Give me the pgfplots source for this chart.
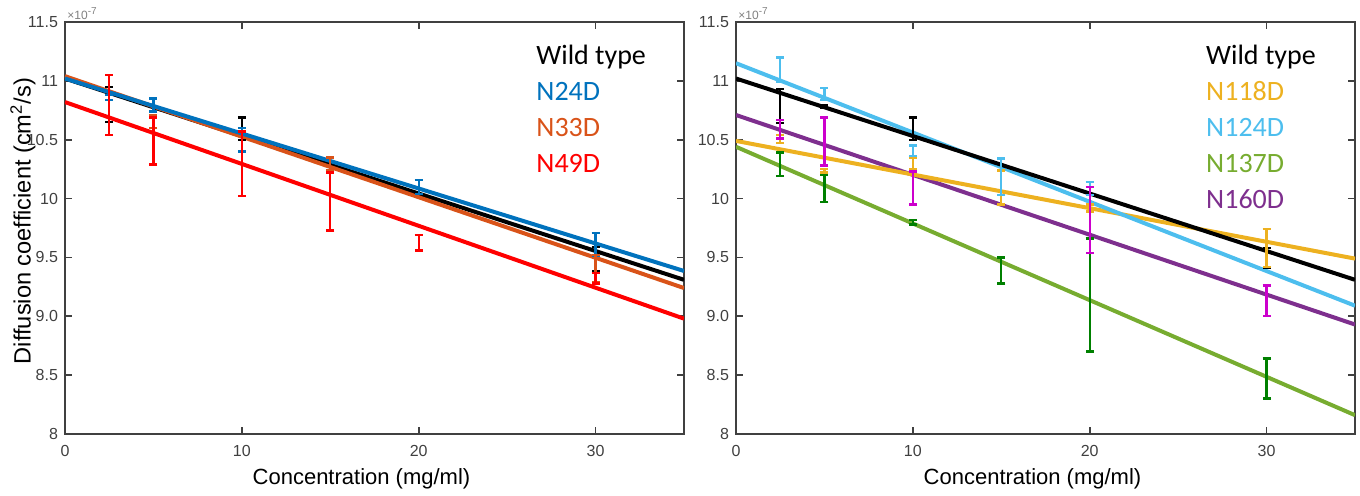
\documentclass[border=0pt]{standalone}
\usepackage{pgfplots}
\pgfplotsset{compat=1.18}
\usepackage{fontspec}
\setmainfont{Liberation Sans}
\newfontfamily\calibri{Carlito}

\definecolor{axgray}{RGB}{64,64,64}
\definecolor{mblue}{RGB}{0,114,189}
\definecolor{morange}{RGB}{217,83,25}
\definecolor{myellow}{RGB}{237,177,32}
\definecolor{mpurple}{RGB}{126,47,142}
\definecolor{mgreen}{RGB}{119,172,48}
\definecolor{mcyan}{RGB}{77,190,238}
\definecolor{dgreen}{RGB}{0,128,0}
\definecolor{mmag}{RGB}{204,0,204}

\pgfplotsset{
  diffax/.style={
    scale only axis, width=309.5pt, height=206pt,
    xmin=0, xmax=35, ymin=8, ymax=11.5,
    xtick={0,10,20,30}, xticklabels={0,10,20,30},
    ytick={8,8.5,9,9.5,10,10.5,11,11.5},
    yticklabels={8,8.5,9.0,9.5,10,10.5,11,11.5},
    tick align=inside, major tick length=3.5pt,
    axis line style={draw=axgray, line width=1pt},
    every tick/.style={draw=axgray, line width=0.8pt},
    tick label style={font=\fontsize{8}{9}\selectfont, text=axgray},
    xticklabel style={yshift=-2pt},
    /pgf/number format/assume math mode=true,
    xlabel={Concentration (mg/ml)},
    every axis x label/.style={at={(axis description cs:0.5,0)}, anchor=base, yshift=-25pt, xshift=-6.5pt,
      font=\fontsize{11}{13}\selectfont},
    every axis y label/.style={at={(axis description cs:0,0.5)}, rotate=90, anchor=center, yshift=21pt, xshift=3.5pt,
      font=\fontsize{11.8}{14}\selectfont},
    clip mode=individual,
  },
  fit/.style={line width=2pt},
  eb/.style={draw=none, mark=none, forget plot,
    error bars/.cd, y dir=both, y explicit,
    error mark options={rotate=90, mark size=2pt, line width=1.2pt, draw=#1, solid},
    error bar style={line width=1.2pt, draw=#1, solid}},
}

\begin{document}
\begin{tikzpicture}
\path[use as bounding box] (-32.5pt,-30.5pt) rectangle (647.5pt,217pt);

% left panel
\begin{axis}[diffax, at={(0pt,0pt)}, anchor=south west,
  ylabel={Diffusion coefficient (cm\textsuperscript{2}/s)}]
\addplot[fit, black]   coordinates {(0,11.02) (35,9.31)};
\addplot[fit, morange] coordinates {(0,11.04) (35,9.24)};
\addplot[fit, mblue]   coordinates {(0,11.02) (35,9.385)};
\addplot[fit, red]     coordinates {(0,10.82) (35,8.98)};

\addplot[eb=black] coordinates {
  (2.5,10.80) +- (0,0.15)
  (10,10.595) +- (0,0.095)
  (30,9.485) +- (0,0.105)
};
\addplot[eb=mblue] coordinates {
  (2.5,10.86) +- (0,0.02)
  (5,10.795) +- (0,0.055)
  (10,10.50) +- (0,0.10)
  (20,10.10) +- (0,0.06)
  (30,9.61) +- (0,0.10)
};
\addplot[eb=morange] coordinates {
  (5,10.655) +- (0,0.055)
  (15,10.295) +- (0,0.055)
  (30,9.405) +- (0,0.115)
};
\addplot[eb=red] coordinates {
  (2.5,10.795) +- (0,0.255)
  (5,10.49) +- (0,0.20)
  (10,10.295) +- (0,0.275)
  (15,9.975) +- (0,0.245)
  (20,9.625) +- (0,0.065)
  (30,9.325) +- (0,0.045)
};

\node[anchor=south west, inner sep=1pt, font=\fontsize{6}{7}\selectfont, text=gray] at (rel axis cs:0,1) {×10\textsuperscript{-7}};
\node[anchor=north west, align=left, inner sep=0pt, font=\calibri\fontsize{14}{18}\selectfont] at (rel axis cs:0.761,0.944)
  {Wild type\\\textcolor{mblue}{N24D}\\\textcolor{morange}{N33D}\\\textcolor{red}{N49D}};
\end{axis}

% right panel
\begin{axis}[diffax, at={(335.5pt,0pt)}, anchor=south west]
\addplot[fit, mgreen]  coordinates {(0,10.44) (35,8.16)};
\addplot[fit, mpurple] coordinates {(0,10.71) (35,8.93)};
\addplot[fit, myellow] coordinates {(0,10.49) (35,9.49)};
\addplot[fit, mcyan]   coordinates {(0,11.15) (35,9.09)};
\addplot[fit, black]   coordinates {(0,11.02) (35,9.31)};

\addplot[eb=black] coordinates {
  (2.5,10.785) +- (0,0.145)
  (5,10.78) +- (0,0.01)
  (10,10.595) +- (0,0.095)
  (30,9.495) +- (0,0.085)
};
\addplot[eb=myellow] coordinates {
  (2.5,10.505) +- (0,0.035)
  (5,10.235) +- (0,0.015)
  (10,10.30) +- (0,0.05)
  (15,10.095) +- (0,0.145)
  (20,9.92) +- (0,0.03)
  (30,9.58) +- (0,0.16)
};
\addplot[eb=mcyan] coordinates {
  (2.5,11.095) +- (0,0.105)
  (5,10.89) +- (0,0.05)
  (10,10.405) +- (0,0.045)
  (15,10.185) +- (0,0.155)
  (20,10.085) +- (0,0.055)
};
\addplot[eb=dgreen] coordinates {
  (2.5,10.29) +- (0,0.10)
  (5,10.085) +- (0,0.115)
  (10,9.80) +- (0,0.02)
  (15,9.39) +- (0,0.11)
  (20,9.18) +- (0,0.48)
  (30,8.47) +- (0,0.17)
};
\addplot[eb=mmag] coordinates {
  (2.5,10.59) +- (0,0.08)
  (5,10.485) +- (0,0.205)
  (10,10.09) +- (0,0.14)
  (20,9.82) +- (0,0.28)
  (30,9.13) +- (0,0.13)
};

\node[anchor=south west, inner sep=1pt, font=\fontsize{6}{7}\selectfont, text=gray] at (rel axis cs:0,1) {×10\textsuperscript{-7}};
\node[anchor=north west, align=left, inner sep=0pt, font=\calibri\fontsize{14}{18}\selectfont] at (rel axis cs:0.759,0.944)
  {Wild type\\\textcolor{myellow}{N118D}\\\textcolor{mcyan}{N124D}\\\textcolor{mgreen}{N137D}\\\textcolor{mpurple}{N160D}};
\end{axis}
\end{tikzpicture}
\end{document}
